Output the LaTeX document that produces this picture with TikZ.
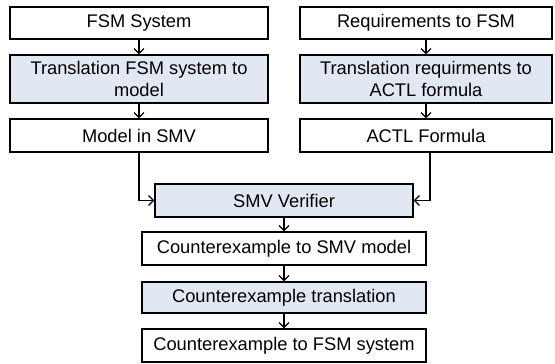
\documentclass[tikz,border=0pt]{standalone}
\usepackage{fontspec}
\setmainfont{Liberation Sans}
\usetikzlibrary{arrows.meta}
\definecolor{boxblue}{RGB}{225,232,243}

\begin{document}
\begin{tikzpicture}[x=1pt,y=-1pt,
    box/.style={draw, line width=1.2pt, inner sep=0pt, align=center,
        font=\fontsize{18.3}{21.7}\selectfont},
    proc/.style={box, fill=boxblue},
    flow/.style={-{Straight Barb[length=5pt,width=10pt]}, line width=1.2pt}]
    \useasboundingbox (0,0) rectangle (555,364);

%left column
    \node[box, minimum width=258pt, minimum height=32pt] (fsm) at (139,23) {FSM System};
    \node[proc, minimum width=258pt, minimum height=48pt] (trans) at (139,79) {Translation FSM system to\\model};
    \node[box, minimum width=258pt, minimum height=33pt] (model) at (139,135.5) {Model in SMV};

%right column
    \node[box, minimum width=252pt, minimum height=32pt] (req) at (426,23) {Requirements to FSM};
    \node[proc, minimum width=252pt, minimum height=48pt] (transreq) at (426,79) {Translation requirments to\\ACTL formula};
    \node[box, minimum width=252pt, minimum height=33pt] (actl) at (426,135.5) {ACTL Formula};

%verifier
    \node[proc, minimum width=258pt, minimum height=33pt] (smv) at (284,200.5) {SMV Verifier};
    \node[box, minimum width=284pt, minimum height=33pt] (cesmv) at (284,248.5) {Counterexample to SMV model};
    \node[proc, minimum width=284pt, minimum height=31pt] (cetrans) at (284,297.5) {Counterexample translation};
    \node[box, minimum width=284pt, minimum height=33pt] (cefsm) at (284,345.5) {Counterexample to FSM system};

%arrows
    \draw[flow] (fsm) -- (trans);
    \draw[flow] (trans) -- (model);
    \draw[flow] (req) -- (transreq);
    \draw[flow] (transreq) -- (actl);
    \draw[flow] (model.south) |- (smv.west);
    \draw[flow] ([xshift=4pt]actl.south) |- (smv.east);
    \draw[flow] (smv) -- (cesmv);
    \draw[flow] (cesmv) -- (cetrans);
    \draw[flow] (cetrans) -- (cefsm);

\end{tikzpicture}
\end{document}
